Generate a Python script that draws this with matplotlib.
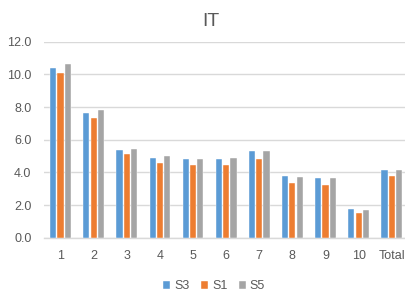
import matplotlib
matplotlib.use("Agg")
import matplotlib.pyplot as plt
import numpy as np

# Values
categories = ["1", "2", "3", "4", "5", "6", "7", "8", "9", "10", "Total"]
s3 = [10.37, 7.61, 5.37, 4.88, 4.80, 4.84, 5.33, 3.78, 3.67, 1.78, 4.14]
s1 = [10.08, 7.33, 5.10, 4.57, 4.45, 4.45, 4.84, 3.35, 3.24, 1.51, 3.80]
s5 = [10.61, 7.82, 5.45, 4.98, 4.84, 4.90, 5.33, 3.73, 3.65, 1.69, 4.16]
series_names = ["S3", "S1", "S5"]
yticks = [0, 2, 4, 6, 8, 10, 12]

colors = ["#5B9BD5", "#ED7D31", "#A5A5A5"]
text_color = "#595959"
grid_color = "#D9D9D9"

plt.rcParams["font.family"] = ["Liberation Sans", "DejaVu Sans"]

W, H = 406, 299
fig = plt.figure(figsize=(W / 100, H / 100), dpi=100)
ax = fig.add_axes([44 / W, (H - 237.7) / H, (405 - 44) / W, (237.7 - 41.7) / H])

x = np.arange(len(categories))
offset = 0.22
width = 0.185
for i, (name, vals) in enumerate(zip(series_names, [s3, s1, s5])):
    ax.bar(x + (i - 1) * offset, vals, width, color=colors[i], label=name,
           edgecolor="white", linewidth=0.3, zorder=3)

ax.set_ylim(0, 12)
ax.set_xlim(-0.5, 10.4)
ax.set_yticks(yticks)
ax.set_yticklabels([f"{v:.1f}" for v in yticks])
ax.set_xticks(x)
ax.set_xticklabels(categories)

ax.grid(axis="y", color=grid_color, linewidth=1, zorder=0)
for side in ["left", "right", "top"]:
    ax.spines[side].set_visible(False)
ax.spines["bottom"].set_color(grid_color)
ax.spines["bottom"].set_linewidth(1)
ax.tick_params(axis="both", length=0, labelsize=9, colors=text_color)
ax.tick_params(axis="y", pad=9)
ax.tick_params(axis="x", pad=9)

fig.text(211 / W, 1 - 22 / H, "IT", ha="center", va="center",
         fontsize=14, color=text_color)

fig.legend(loc="center", bbox_to_anchor=(214 / W, 1 - 286 / H), ncol=3,
           frameon=False, fontsize=9, handlelength=0.6, handleheight=0.6,
           handletextpad=0.3, columnspacing=0.9, labelcolor=text_color)

fig.savefig("out.png", dpi=100)
